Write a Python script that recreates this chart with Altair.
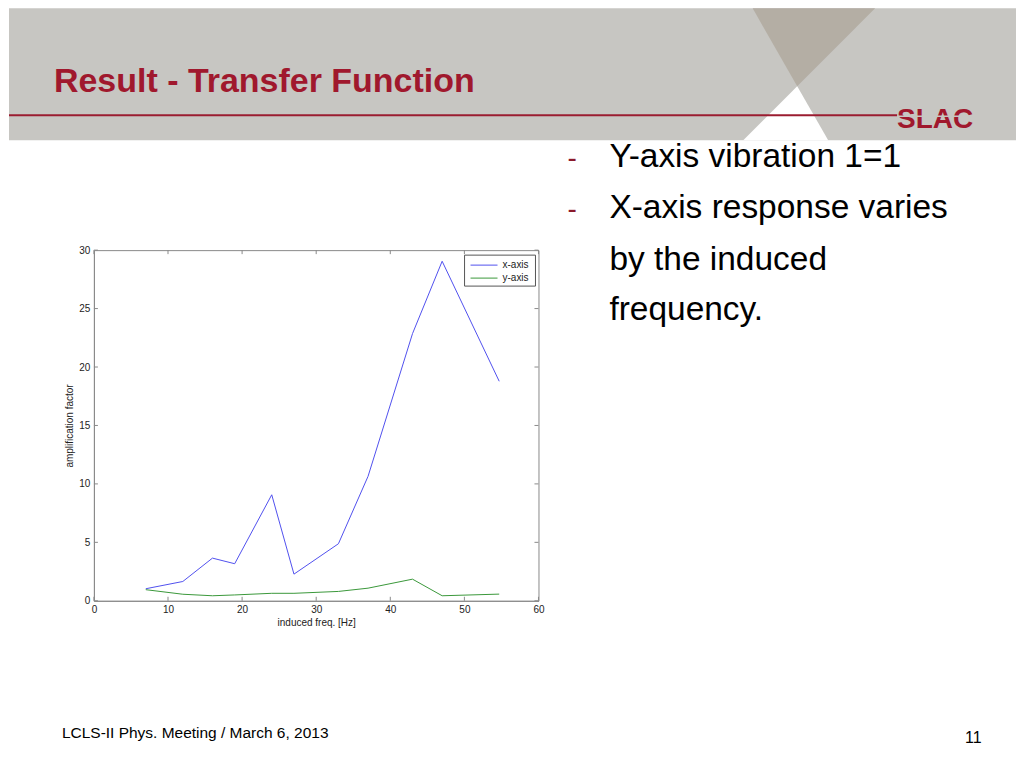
import altair as alt
import pandas as pd

# ---- data ----
freq = [7, 12, 16, 19, 24, 27, 33, 37, 43, 47, 54.7]
x_axis_amp = [1.03, 1.65, 3.65, 3.17, 9.07, 2.28, 4.88, 10.65, 22.86, 29.05, 18.78]
y_axis_amp = [0.95, 0.56, 0.43, 0.50, 0.64, 0.64, 0.80, 1.08, 1.85, 0.43, 0.57]
series_names = ["x-axis", "y-axis"]
series_colors = ["#5050ee", "#3a983a"]
x_ticks = [0, 10, 20, 30, 40, 50, 60]
y_ticks = [0, 5, 10, 15, 20, 25, 30]

slide_title = "Result - Transfer Function"
logo_text = "SLAC"
bullet_lines = ["Y-axis vibration 1=1", "X-axis response varies", "by the induced", "frequency."]
bullet_dash_rows = [0, 1]
footer_text = "LCLS-II Phys. Meeting / March 6, 2013"
page_number = "11"

# ---- layout (plot area pixels) ----
W, H = 445, 351
FRAME = "#8a8a8a"
RED = "#a0182d"
GRAY_BG = "#c7c6c2"
TAN = "#b4aea4"
FONT = "Liberation Sans"

n = len(freq)
df = pd.DataFrame({
    "freq": freq + freq,
    "amp": x_axis_amp + y_axis_amp,
    "series": [series_names[0]] * n + [series_names[1]] * n,
})
xt = pd.DataFrame({"freq": x_ticks})
yt = pd.DataFrame({"amp": y_ticks})
one = alt.Data(values=[{"k": 0}])

xs = alt.Scale(domain=[0, 60], nice=False, zero=False)
ys = alt.Scale(domain=[0, 30], nice=False, zero=False)
cs = alt.Scale(domain=series_names, range=series_colors)
x_axis = alt.Axis(values=x_ticks, title="induced freq. [Hz]", grid=False, tickSize=0,
                  labelPadding=4, titlePadding=3, format="d", labelFlush=False)
y_axis = alt.Axis(values=y_ticks, title="amplification factor", grid=False, tickSize=0,
                  labelPadding=4, titlePadding=4, format="d", labelFlush=False)

# ---- slide decorations ----
bounds = alt.Chart(one).mark_rect(opacity=0).encode(
    x=alt.value(-85), x2=alt.value(923), y=alt.value(-242), y2=alt.value(508))
header = alt.Chart(one).mark_rect(color=GRAY_BG).encode(
    x=alt.value(-85), x2=alt.value(923), y=alt.value(-242), y2=alt.value(-110))
tan_tri = alt.Chart(one).mark_point(
    shape="M659.4,-242 L782,-242 L704,-164 Z", size=4, filled=True, fill=TAN,
    strokeWidth=0, opacity=1).encode(x=alt.value(0), y=alt.value(0))
white_tri = alt.Chart(one).mark_point(
    shape="M704,-164 L650,-110 L735,-110 Z", size=4, filled=True, fill="white",
    strokeWidth=0, opacity=1).encode(x=alt.value(0), y=alt.value(0))
red_line = alt.Chart(one).mark_rule(color="#9b1c30", strokeWidth=2).encode(
    x=alt.value(-85), x2=alt.value(804), y=alt.value(-135))
title = alt.Chart(one).mark_text(
    font=FONT, fontSize=34, fontWeight="bold", color=RED, align="left",
    baseline="alphabetic").encode(x=alt.value(-40), y=alt.value(-158), text=alt.value(slide_title))
logo = alt.Chart(one).mark_text(
    font=FONT, fontSize=28, fontWeight="bold", color=RED, align="left",
    baseline="alphabetic").encode(x=alt.value(804), y=alt.value(-122), text=alt.value(logo_text))
logo_cut = alt.Chart(one).mark_rule(color=GRAY_BG, strokeWidth=1.5).encode(
    x=alt.value(804), x2=alt.value(882), y=alt.value(-134))

bullet_base = [-83, -32, 20, 70]
bullet_df = pd.DataFrame({"line": bullet_lines, "ypix": bullet_base})
bullets = alt.Chart(bullet_df).mark_text(
    font=FONT, fontSize=33.5, color="black", align="left", baseline="alphabetic").encode(
    x=alt.value(516), y=alt.Y("ypix:Q", scale=None), text="line:N")
dash_df = pd.DataFrame({"ypix": [bullet_base[i] for i in bullet_dash_rows],
                        "d": ["-"] * len(bullet_dash_rows)})
dashes = alt.Chart(dash_df).mark_text(
    font=FONT, fontSize=28, color="#8b1a2b", align="left", baseline="alphabetic").encode(
    x=alt.value(474), y=alt.Y("ypix:Q", scale=None), text="d:N")

footer = alt.Chart(one).mark_text(
    font=FONT, fontSize=15.5, color="black", align="left", baseline="alphabetic").encode(
    x=alt.value(-32), y=alt.value(488), text=alt.value(footer_text))
pnum = alt.Chart(one).mark_text(
    font=FONT, fontSize=16, color="black", align="left", baseline="alphabetic").encode(
    x=alt.value(872), y=alt.value(493), text=alt.value(page_number))

# ---- chart ----
lines = alt.Chart(df).mark_line(strokeWidth=1).encode(
    x=alt.X("freq:Q", scale=xs, axis=x_axis),
    y=alt.Y("amp:Q", scale=ys, axis=y_axis),
    color=alt.Color("series:N", scale=cs, legend=None),
)

# inward ticks on all four sides (MATLAB style)
tb = alt.Chart(xt).mark_rule(color=FRAME, strokeWidth=1).encode(
    x=alt.X("freq:Q", scale=xs, axis=x_axis), y=alt.value(H), y2=alt.value(H - 4))
tt = alt.Chart(xt).mark_rule(color=FRAME, strokeWidth=1).encode(
    x=alt.X("freq:Q", scale=xs, axis=x_axis), y=alt.value(0), y2=alt.value(4))
tl = alt.Chart(yt).mark_rule(color=FRAME, strokeWidth=1).encode(
    y=alt.Y("amp:Q", scale=ys, axis=y_axis), x=alt.value(0), x2=alt.value(4))
tr = alt.Chart(yt).mark_rule(color=FRAME, strokeWidth=1).encode(
    y=alt.Y("amp:Q", scale=ys, axis=y_axis), x=alt.value(W), x2=alt.value(W - 4))

# legend box drawn inside the plot
leg_df = pd.DataFrame({"series": series_names, "ypix": [15, 28]})
leg_box = alt.Chart(one).mark_rect(fill="white", stroke="#555", strokeWidth=1).encode(
    x=alt.value(371), x2=alt.value(442), y=alt.value(5), y2=alt.value(36))
leg_lines = alt.Chart(leg_df).mark_rule(strokeWidth=1).encode(
    x=alt.value(377), x2=alt.value(404), y=alt.Y("ypix:Q", scale=None),
    color=alt.Color("series:N", scale=cs, legend=None))
leg_text = alt.Chart(leg_df).mark_text(
    font=FONT, fontSize=10, color="#222", align="left", baseline="middle").encode(
    x=alt.value(409), y=alt.Y("ypix:Q", scale=None), text="series:N")

chart = alt.layer(
    bounds, header, tan_tri, white_tri, red_line, title, logo, logo_cut,
    dashes, bullets, footer, pnum, tb, tt, tl, tr, lines, leg_box, leg_lines, leg_text
).properties(width=W, height=H, padding=0, background="white").configure_view(
    stroke=FRAME, strokeWidth=1, fill="white"
).configure_axis(
    domainColor=FRAME, labelFont=FONT, titleFont=FONT, labelFontSize=10, titleFontSize=10,
    labelColor="#222", titleColor="#222", titleFontWeight="normal"
)

chart.save("out.html", embed_options={"renderer": "svg", "actions": False})
